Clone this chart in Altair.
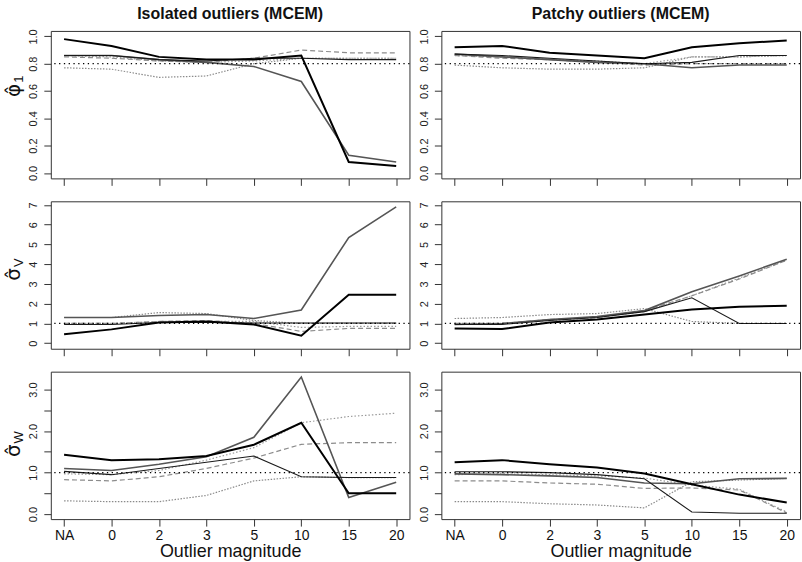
import altair as alt
import pandas as pd

# ---------------- data ----------------
categories = ["NA", "0", "2", "3", "5", "10", "15", "20"]
series_names = ["s1", "s2", "s3", "s4", "s5", "s6"]

# phi_1, isolated outliers
phi_iso_s1 = [0.98, 0.93, 0.85, 0.83, 0.83, 0.86, 0.08, 0.05]
phi_iso_s2 = [0.86, 0.86, 0.83, 0.82, 0.84, 0.84, 0.83, 0.83]
phi_iso_s3 = [0.86, 0.86, 0.83, 0.81, 0.78, 0.67, 0.13, 0.08]
phi_iso_s4 = [0.85, 0.84, 0.82, 0.81, 0.84, 0.90, 0.88, 0.88]
phi_iso_s5 = [0.86, 0.85, 0.82, 0.81, 0.82, 0.84, 0.84, 0.84]
phi_iso_s6 = [0.77, 0.76, 0.70, 0.71, 0.80, 0.84, 0.84, 0.84]
# phi_1, patchy outliers
phi_pat_s1 = [0.92, 0.93, 0.88, 0.86, 0.84, 0.92, 0.95, 0.97]
phi_pat_s2 = [0.87, 0.86, 0.84, 0.82, 0.80, 0.81, 0.86, 0.86]
phi_pat_s3 = [0.87, 0.85, 0.83, 0.81, 0.80, 0.77, 0.79, 0.79]
phi_pat_s4 = [0.86, 0.84, 0.83, 0.81, 0.79, 0.80, 0.80, 0.80]
phi_pat_s5 = [0.86, 0.85, 0.83, 0.82, 0.80, 0.85, 0.85, 0.86]
phi_pat_s6 = [0.79, 0.77, 0.76, 0.76, 0.77, 0.85, 0.85, 0.86]
# sigma_V, isolated
sv_iso_s1 = [0.45, 0.70, 1.05, 1.10, 0.95, 0.38, 2.45, 2.45]
sv_iso_s2 = [0.95, 0.95, 1.05, 1.05, 1.02, 1.02, 1.02, 1.02]
sv_iso_s3 = [1.30, 1.30, 1.40, 1.45, 1.25, 1.68, 5.35, 6.90]
sv_iso_s4 = [1.00, 1.00, 1.10, 1.15, 1.00, 0.60, 0.75, 0.75]
sv_iso_s5 = [1.00, 1.00, 1.10, 1.10, 1.10, 0.80, 0.85, 0.85]
sv_iso_s6 = [1.30, 1.30, 1.55, 1.50, 1.15, 1.00, 1.00, 1.00]
# sigma_V, patchy
sv_pat_s1 = [0.75, 0.72, 1.05, 1.20, 1.45, 1.70, 1.85, 1.90]
sv_pat_s2 = [0.95, 0.95, 1.15, 1.30, 1.60, 2.30, 1.00, 1.00]
sv_pat_s3 = [0.95, 1.00, 1.20, 1.35, 1.65, 2.60, 3.40, 4.25]
sv_pat_s4 = [1.00, 1.00, 1.20, 1.30, 1.65, 2.40, 3.25, 4.20]
sv_pat_s5 = [1.00, 1.00, 1.15, 1.30, 1.60, 2.40, 3.30, 4.20]
sv_pat_s6 = [1.25, 1.30, 1.45, 1.50, 1.75, 1.10, 1.00, 1.00]
# sigma_W, isolated
sw_iso_s1 = [1.43, 1.30, 1.32, 1.40, 1.67, 2.20, 0.50, 0.50]
sw_iso_s2 = [1.03, 0.95, 1.10, 1.25, 1.40, 0.90, 0.88, 0.88]
sw_iso_s3 = [1.10, 1.05, 1.20, 1.38, 1.85, 3.30, 0.40, 0.77]
sw_iso_s4 = [0.83, 0.80, 0.90, 1.10, 1.35, 1.68, 1.72, 1.72]
sw_iso_s5 = [0.97, 0.95, 1.05, 1.30, 1.60, 2.20, 2.35, 2.43]
sw_iso_s6 = [0.32, 0.30, 0.30, 0.45, 0.80, 0.90, 0.88, 0.88]
# sigma_W, patchy
sw_pat_s1 = [1.25, 1.30, 1.20, 1.12, 0.98, 0.72, 0.47, 0.28]
sw_pat_s2 = [1.02, 1.02, 1.00, 0.95, 0.85, 0.05, 0.02, 0.02]
sw_pat_s3 = [0.97, 0.95, 0.92, 0.88, 0.75, 0.73, 0.85, 0.86]
sw_pat_s4 = [0.80, 0.80, 0.75, 0.72, 0.62, 0.63, 0.58, 0.03]
sw_pat_s5 = [0.95, 0.97, 0.95, 0.92, 0.87, 0.70, 0.60, 0.05]
sw_pat_s6 = [0.30, 0.30, 0.25, 0.22, 0.15, 0.78, 0.82, 0.86]

true_values = {"phi": 0.8, "sv": 1.0, "sw": 1.0}
col_titles = ["Isolated outliers (MCEM)", "Patchy outliers (MCEM)"]
x_title = "Outlier magnitude"

# ---------------- styling ----------------
FONT = "Liberation Sans"
W, H = 360, 148
styles = {
    "s6": dict(color="#8a8a8a", strokeWidth=1.2, strokeDash=[1.5, 1.5]),
    "s5": dict(color="#9a9a9a", strokeWidth=1.2, strokeDash=[1.5, 2]),
    "s4": dict(color="#8c8c8c", strokeWidth=1.2, strokeDash=[5, 3]),
    "s3": dict(color="#555555", strokeWidth=1.6),
    "s2": dict(color="#1a1a1a", strokeWidth=1.1),
    "s1": dict(color="#000000", strokeWidth=2.0),
}


def long_df(lists):
    rows = []
    for s, vals in zip(series_names, lists):
        for c, v in zip(categories, vals):
            rows.append({"mag": c, "val": v, "series": s})
    return pd.DataFrame(rows)


def panel(lists, ref, ydom, yvals, ylabexpr, bottom, ctitle=None,
          ybase=None, ysub=None, yanchor=None):
    df = long_df(lists)
    xaxis = alt.Axis(
        labels=bottom, title=x_title if bottom else None, ticks=True,
        tickSize=7, tickColor="#333", domain=False, grid=False, labelAngle=0,
        labelFontSize=14, labelFont=FONT, labelColor="#111", labelPadding=2,
        titleFontSize=18, titleFont=FONT, titleFontWeight="normal",
        titleColor="#111", titlePadding=1,
    )
    yaxis = alt.Axis(
        values=yvals, labelExpr=ylabexpr, title=None, tickSize=7,
        tickColor="#333", domain=False, grid=False, labelAngle=270,
        labelAlign="center", labelBaseline="bottom", labelFontSize=11,
        labelFont=FONT, labelColor="#222", labelPadding=5,
        labelOverlap=False, labelFlush=False, labelBound=False,
    )
    x = alt.X("mag:N", sort=categories,
              scale=alt.Scale(type="point", padding=0.28), axis=xaxis)
    y = alt.Y("val:Q", scale=alt.Scale(domain=ydom, nice=False, zero=False),
              axis=yaxis)
    layers = []
    for s in ["s6", "s5", "s4", "s3", "s2", "s1"]:
        layers.append(
            alt.Chart(df).transform_filter(alt.datum.series == s)
            .mark_line(**styles[s]).encode(x=x, y=y)
        )
    layers.append(
        alt.Chart(pd.DataFrame({"val": [ref]}))
        .mark_rule(color="black", strokeWidth=1.3, strokeDash=[1.3, 3.5])
        .encode(y=y)
    )
    if ybase is not None:
        layers.append(
            alt.Chart(pd.DataFrame({"t": [ybase]}))
            .mark_text(angle=270, fontSize=20, font="DejaVu Sans",
                       align="right", baseline="middle", color="#111")
            .encode(text="t:N", x=alt.value(-37), y=alt.value(yanchor))
        )
        layers.append(
            alt.Chart(pd.DataFrame({"t": [ysub]}))
            .mark_text(angle=270, fontSize=13, font=FONT,
                       align="left", baseline="middle", color="#111")
            .encode(text="t:N", x=alt.value(-32), y=alt.value(yanchor - 1))
        )
    ch = alt.layer(*layers).properties(width=W, height=H)
    if ctitle:
        ch = ch.properties(title=alt.Title(
            ctitle, font=FONT, fontSize=16, fontWeight="bold", color="#111",
            offset=7, anchor="middle"))
    return ch


phi_ticks = [0, 0.2, 0.4, 0.6, 0.8, 1.0]
sv_ticks = [0, 1, 2, 3, 4, 5, 6, 7]
sw_ticks = [0, 0.5, 1.0, 1.5, 2.0, 2.5, 3.0]
lab1 = "format(datum.value, '.1f')"
lab0 = "format(datum.value, 'd')"
labw = "datum.value % 1 == 0 ? format(datum.value, '.1f') : ''"

phi_dom = [-0.04, 1.04]
sv_dom = [-0.28, 7.18]
sw_dom = [-0.12, 3.43]

panels = [
    panel([phi_iso_s1, phi_iso_s2, phi_iso_s3, phi_iso_s4, phi_iso_s5, phi_iso_s6],
          true_values["phi"], phi_dom, phi_ticks, lab1, False, col_titles[0],
          "φ\u0302", "1", 53),
    panel([phi_pat_s1, phi_pat_s2, phi_pat_s3, phi_pat_s4, phi_pat_s5, phi_pat_s6],
          true_values["phi"], phi_dom, phi_ticks, lab1, False, col_titles[1]),
    panel([sv_iso_s1, sv_iso_s2, sv_iso_s3, sv_iso_s4, sv_iso_s5, sv_iso_s6],
          true_values["sv"], sv_dom, sv_ticks, lab0, False, None,
          "σ\u0302", "V", 67),
    panel([sv_pat_s1, sv_pat_s2, sv_pat_s3, sv_pat_s4, sv_pat_s5, sv_pat_s6],
          true_values["sv"], sv_dom, sv_ticks, lab0, False),
    panel([sw_iso_s1, sw_iso_s2, sw_iso_s3, sw_iso_s4, sw_iso_s5, sw_iso_s6],
          true_values["sw"], sw_dom, sw_ticks, labw, True, None,
          "σ\u0302", "W", 73),
    panel([sw_pat_s1, sw_pat_s2, sw_pat_s3, sw_pat_s4, sw_pat_s5, sw_pat_s6],
          true_values["sw"], sw_dom, sw_ticks, labw, True),
]

chart = alt.concat(
    *panels, columns=2, spacing={"row": 23, "column": 32}, bounds="flush"
).properties(
    padding={"left": 3, "top": 4, "right": 0, "bottom": 0},
    background="white",
).configure_view(
    stroke="#333", strokeWidth=1
).configure_axis(labelOverlap=False)

chart.save("out.html", embed_options={"renderer": "svg", "actions": False})
